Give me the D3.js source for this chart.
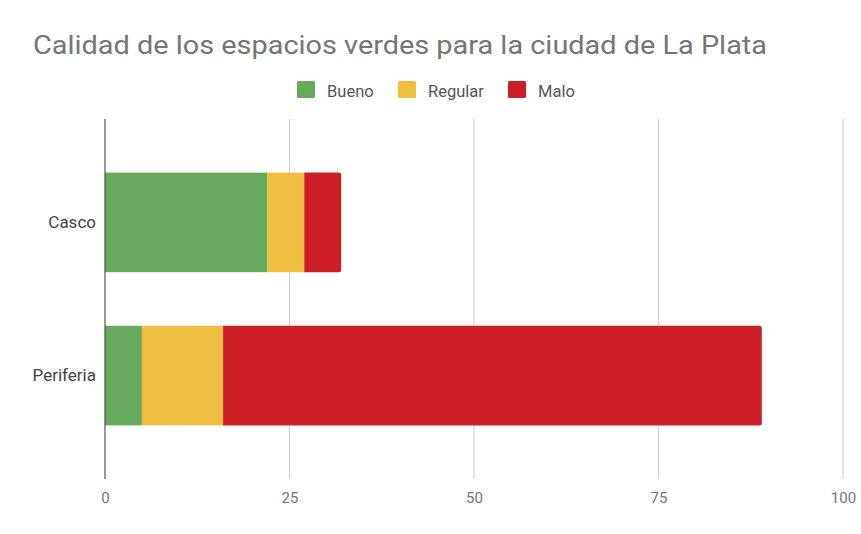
<!DOCTYPE html>
<html><head><meta charset="utf-8">
<script src="https://cdn.jsdelivr.net/npm/d3@7"></script>
<style>body{margin:0;background:#fff;}svg{display:block;font-family:Roboto,"Noto Sans",sans-serif;}</style>
</head><body>
<svg id="c" width="861" height="534"></svg>
<script>
const categories = ["Casco", "Periferia"];
const seriesNames = ["Bueno", "Regular", "Malo"];
const bueno = [22, 5];
const regular = [5, 11];
const malo = [5, 73];
const xTicks = [0, 25, 50, 75, 100];
const colors = ["#68aa5c", "#efbd3f", "#cf1f26"];

const svg = d3.select("#c");
const x = d3.scaleLinear().domain([0, 100]).range([105, 843]);
const y = d3.scaleBand().domain(categories).range([119, 479]).paddingInner(0.35).paddingOuter(0.35);

// title
svg.append("text").attr("x", 33).attr("y", 54).attr("fill", "#757575")
  .attr("font-size", 25).attr("textLength", 734).attr("lengthAdjust", "spacingAndGlyphs")
  .text("Calidad de los espacios verdes para la ciudad de La Plata");

// gridlines
svg.append("g").selectAll("line").data(xTicks.slice(1)).join("line")
  .attr("x1", d => x(d)).attr("x2", d => x(d)).attr("y1", 119).attr("y2", 479)
  .attr("stroke", "#cccccc").attr("stroke-width", 1);

// bars
const rows = categories.map((c, i) => ({cat: c, Bueno: bueno[i], Regular: regular[i], Malo: malo[i]}));
const stacked = d3.stack().keys(seriesNames)(rows);
const g = svg.append("g");
stacked.forEach((layer, li) => {
  layer.forEach((d) => {
    const x0 = x(d[0]), x1 = x(d[1]), yy = y(d.data.cat), h = y.bandwidth();
    if (li === stacked.length - 1) {
      const r = 2.5;
      g.append("path").attr("fill", colors[li])
        .attr("d", `M${x0},${yy}H${x1 - r}Q${x1},${yy} ${x1},${yy + r}V${yy + h - r}Q${x1},${yy + h} ${x1 - r},${yy + h}H${x0}Z`);
    } else {
      g.append("rect").attr("x", x0).attr("y", yy).attr("width", x1 - x0).attr("height", h).attr("fill", colors[li]);
    }
  });
});

// baseline axis
svg.append("line").attr("x1", x(0)).attr("x2", x(0)).attr("y1", 119).attr("y2", 479)
  .attr("stroke", "#333333").attr("stroke-width", 1);

// x axis labels
const xa = d3.axisBottom(x).tickValues(xTicks).tickSize(0).tickPadding(0);
const xg = svg.append("g").attr("transform", "translate(0,503)").call(xa);
xg.select(".domain").remove();
xg.selectAll("text").attr("fill", "#757575").attr("font-size", 15).attr("font-family", "Roboto, sans-serif").attr("dy", 0);

// y axis labels
const ya = d3.axisLeft(y).tickSize(0).tickPadding(0);
const yg = svg.append("g").attr("transform", "translate(96,0)").call(ya);
yg.select(".domain").remove();
yg.selectAll("text").attr("fill", "#444444").attr("font-size", 17).attr("font-family", "Roboto, sans-serif");

// legend
const legendX = [297, 398, 508];
const lg = svg.append("g");
seriesNames.forEach((n, i) => {
  lg.append("rect").attr("x", legendX[i]).attr("y", 81).attr("width", 18).attr("height", 17).attr("rx", 1.5).attr("fill", colors[i]);
  lg.append("text").attr("x", legendX[i] + 30).attr("y", 96.5).attr("font-size", 16.5).attr("fill", "#555555").text(n);
});
</script>
</body></html>
